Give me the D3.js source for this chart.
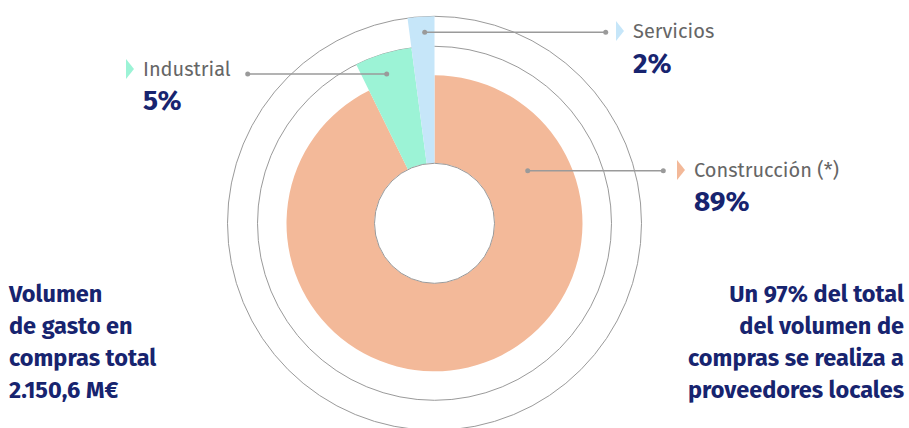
<!DOCTYPE html>
<html>
<head>
<meta charset="utf-8">
<script src="https://cdn.jsdelivr.net/npm/d3@7"></script>
<style>
  html, body { margin: 0; padding: 0; background: #fff; }
  svg { display: block; }
</style>
</head>
<body>
<svg id="chart" width="909" height="428"></svg>
<script>
// data
const sectors = ['Construcción (*)', 'Industrial', 'Servicios'];
const shares = [89, 5, 2];
const shareLabels = ['89%', '5%', '2%'];
const leftNote = ['Volumen', 'de gasto en', 'compras total', '2.150,6 M€'];
const rightNote = ['Un 97% del total', 'del volumen de', 'compras se realiza a', 'proveedores locales'];

// layout
const cx = 434.5;
const cy = 223.3;
const innerR = 60;
const ringR = [148, 177, 207];        // outer radius of each sector
const guideR = [177, 207];            // thin guide circles
const FILL = ['#F3B999', '#9CF3D6', '#C6E6F9'];
const NAVY = '#17246F';
const GREY = '#666666';
const LINE = '#9A9A9A';
const FONT = '"Fira Sans", Lato, "Noto Sans", sans-serif';

// label placement: leader dot, leader end, text x, text baseline
const labelPos = [
  { dot: [527.7, 170.7], end: 663.3, tx: 694, ty: 177, py: 211 },
  { dot: [386.7, 74], end: 247.7, tx: 143, ty: 76, py: 110 },
  { dot: [424.7, 32.3], end: 605.7, tx: 633, ty: 38, py: 73 }
];

const svg = d3.select('#chart');

const pie = d3.pie().sort(null).value(d => d);
const arcs = pie(shares);

const arc = d3.arc()
  .innerRadius(innerR)
  .outerRadius(d => ringR[d.index]);

const g = svg.append('g').attr('transform', `translate(${cx},${cy})`);

// guide circles
g.selectAll('circle.guide')
  .data(guideR)
  .join('circle')
  .attr('class', 'guide')
  .attr('r', d => d)
  .attr('fill', 'none')
  .attr('stroke', LINE)
  .attr('stroke-width', 1);

// slices
g.selectAll('path.slice')
  .data(arcs)
  .join('path')
  .attr('class', 'slice')
  .attr('d', arc)
  .attr('fill', (d, i) => FILL[i]);

// hole
g.append('circle')
  .attr('r', innerR)
  .attr('fill', '#fff')
  .attr('stroke', LINE)
  .attr('stroke-width', 1);

// leaders and labels
const lab = svg.selectAll('g.label')
  .data(sectors)
  .join('g')
  .attr('class', 'label');

lab.append('line')
  .attr('x1', (d, i) => labelPos[i].dot[0])
  .attr('y1', (d, i) => labelPos[i].dot[1])
  .attr('x2', (d, i) => labelPos[i].end)
  .attr('y2', (d, i) => labelPos[i].dot[1])
  .attr('stroke', LINE)
  .attr('stroke-width', 1.5);

lab.append('circle')
  .attr('cx', (d, i) => labelPos[i].dot[0])
  .attr('cy', (d, i) => labelPos[i].dot[1])
  .attr('r', 2.5)
  .attr('fill', LINE);

lab.append('circle')
  .attr('cx', (d, i) => labelPos[i].end)
  .attr('cy', (d, i) => labelPos[i].dot[1])
  .attr('r', 2.5)
  .attr('fill', LINE);

// little triangle markers
lab.append('path')
  .attr('d', (d, i) => {
    const x = labelPos[i].tx - 17;
    const y = labelPos[i].ty - 7;
    return `M${x},${y - 10}L${x + 8},${y}L${x},${y + 10}Z`;
  })
  .attr('fill', (d, i) => FILL[i]);

lab.append('text')
  .attr('x', (d, i) => labelPos[i].tx)
  .attr('y', (d, i) => labelPos[i].ty)
  .attr('font-family', FONT)
  .attr('font-size', 20)
  .attr('fill', GREY)
  .text(d => d);

lab.append('text')
  .attr('x', (d, i) => labelPos[i].tx)
  .attr('y', (d, i) => labelPos[i].py)
  .attr('font-family', FONT)
  .attr('font-size', 28)
  .attr('font-weight', 'bold')
  .attr('fill', NAVY)
  .text((d, i) => shareLabels[i]);

// side notes
const lineY = d3.scaleLinear().domain([0, 3]).range([302, 398]);

svg.selectAll('text.left')
  .data(leftNote)
  .join('text')
  .attr('class', 'left')
  .attr('x', 9)
  .attr('y', (d, i) => lineY(i))
  .attr('font-family', FONT)
  .attr('font-size', 23.5)
  .attr('font-weight', 'bold')
  .attr('fill', NAVY)
  .text(d => d);

svg.selectAll('text.right')
  .data(rightNote)
  .join('text')
  .attr('class', 'right')
  .attr('x', 904)
  .attr('y', (d, i) => lineY(i))
  .attr('text-anchor', 'end')
  .attr('font-family', FONT)
  .attr('font-size', 23.5)
  .attr('font-weight', 'bold')
  .attr('fill', NAVY)
  .text(d => d);
</script>
</body>
</html>
